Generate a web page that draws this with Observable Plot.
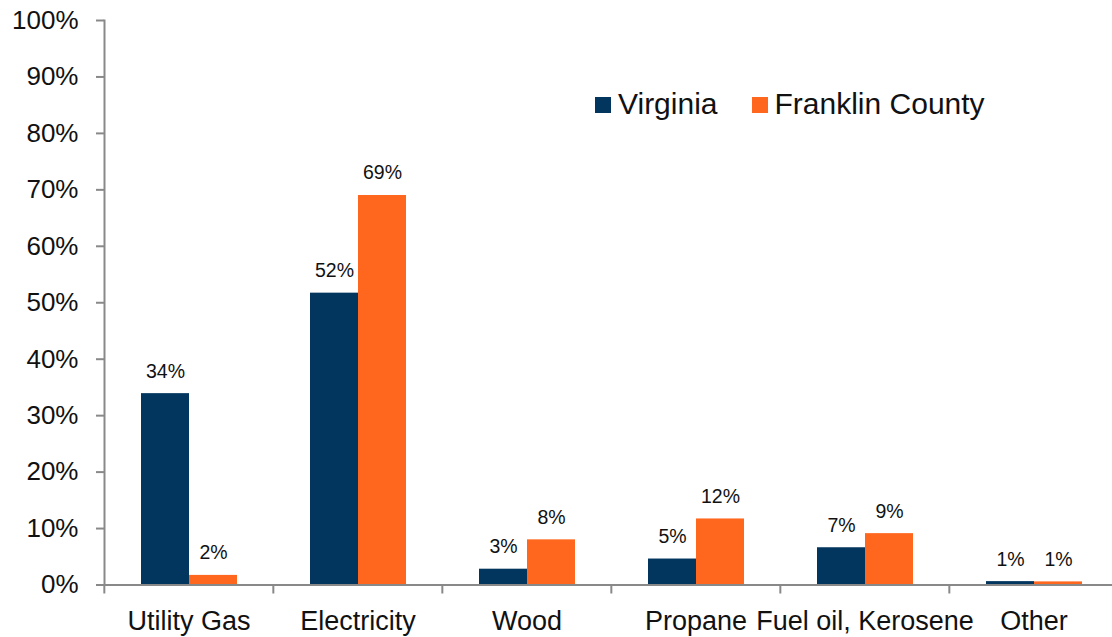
<!DOCTYPE html>
<html>
<head>
<meta charset="utf-8">
<script src="https://cdn.jsdelivr.net/npm/d3@7"></script>
<script src="https://cdn.jsdelivr.net/npm/@observablehq/plot@0.6"></script>
<style>
  html, body { margin: 0; padding: 0; background: #fff; overflow: hidden; }
  #chart { position: relative; width: 1112px; height: 637px; overflow: hidden;
           font-family: "Liberation Sans", Arial, sans-serif; }
  #chart svg { display: block; max-width: none; }
  .legend { position: absolute; left: 595px; top: 86px; display: flex; align-items: center;
            font-size: 30px; line-height: 36px; color: #111; }
  .legend .item { display: flex; align-items: center; margin-right: 34px; }
  .legend .sw { width: 16px; height: 16px; margin-right: 7px; margin-top: 2px; }
</style>
</head>
<body>
<div id="chart"></div>
<script>
// Primary home heating fuel, share of households
const categories = ["Utility Gas", "Electricity", "Wood", "Propane", "Fuel oil, Kerosene", "Other"];
const series = ["Virginia", "Franklin County"];
const virginia = [0.339, 0.517, 0.028, 0.046, 0.066, 0.006];
const franklin = [0.017, 0.690, 0.080, 0.117, 0.091, 0.0055];
const colors = ["#03365f", "#ff671f"];
const yTicks = d3.range(0, 11).map(i => i / 10);

const rows = categories.flatMap((c, i) => [
  {category: c, series: series[0], value: virginia[i]},
  {category: c, series: series[1], value: franklin[i]}
]);

const pct = d3.format(".0%");
const axisGray = "#898989";
const font = "'Liberation Sans', Arial, sans-serif";

const W = 1119, ML = 103, MR = 0;
const step = (W - ML - MR) / categories.length;

const chart = Plot.plot({
  width: W,
  height: 637,
  marginLeft: ML,
  marginRight: MR,
  marginTop: 20,
  marginBottom: 52.5,
  style: {fontFamily: font, background: "white", color: "#111"},
  fx: {domain: categories, padding: 0, label: null, axis: null},
  x: {domain: series, paddingInner: 0, paddingOuter: 0.746, axis: null},
  y: {domain: [0, 1], axis: null},
  color: {domain: series, range: colors},
  marks: [
    Plot.barY(rows, {fx: "category", x: "series", y: "value", fill: "series"}),
    Plot.text(rows, {
      fx: "category", x: "series", y: "value",
      text: d => pct(d.value),
      dy: -16, lineAnchor: "bottom", fontSize: 19.5, fill: "#111"
    }),
    Plot.axisY({
      ticks: yTicks, tickFormat: pct, tickSize: 8, tickPadding: 18,
      fontSize: 26, stroke: axisGray, strokeWidth: 2, fill: "#111", label: null
    }),
    Plot.frame({anchor: "left", facetAnchor: "left", stroke: axisGray, strokeWidth: 2}),
    Plot.ruleY([0], {stroke: axisGray, strokeWidth: 2}),
    // category boundary ticks
    Plot.axisFx({
      anchor: "bottom", tickSize: 9, tickFormat: () => "", dx: -step / 2,
      stroke: axisGray, strokeWidth: 2, label: null
    }),
    // category names
    Plot.axisFx({
      anchor: "bottom", tickSize: 0, tickPadding: 26, fontSize: 27, fill: "#111", label: null
    })
  ]
});

const root = document.getElementById("chart");
root.appendChild(chart);

// legend
const legend = document.createElement("div");
legend.className = "legend";
series.forEach((s, i) => {
  const item = document.createElement("div");
  item.className = "item";
  const sw = document.createElement("span");
  sw.className = "sw";
  sw.style.background = colors[i];
  const label = document.createElement("span");
  label.textContent = s;
  item.appendChild(sw);
  item.appendChild(label);
  legend.appendChild(item);
});
root.appendChild(legend);
</script>
</body>
</html>
